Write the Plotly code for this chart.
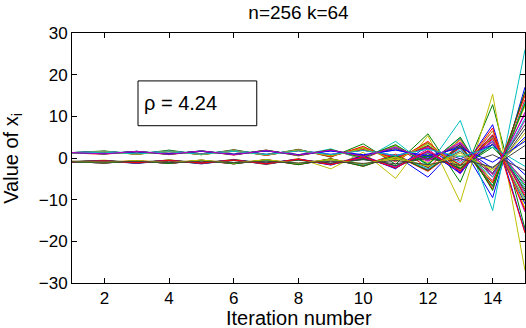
import plotly.graph_objects as go

# iterations on the x axis
iterations = list(range(1, 16))

# MATLAB (old) default colour order: b g r c m y k
color_order = ["#0000ff", "#008000", "#ff0000", "#00bfbf", "#bf00bf", "#bfbf00", "#404040"]

# value of each x_i per iteration (a subset of the 256 traces)
x_00 = [-0.9, -1.2, -0.7, -1.3, -0.6, -1.3, -0.5, -1.4, -0.4, -1.8, 0.6, -4.6, 3.5, -9.5, 17.0]
x_01 = [1.3, 1.7, 0.9, 1.9, 0.8, 2.0, 0.7, 2.1, 0.2, 3.4, -1.5, 5.8, -5.8, 12.8, -17.0]
x_02 = [1.2, 0.9, 1.6, 0.8, 1.7, 0.7, 1.9, 0.5, 2.0, -0.2, 3.0, -2.4, 4.5, -7.5, 15.7]
x_03 = [1.3, 1.0, 1.6, 0.9, 1.7, 0.8, 1.8, 0.6, 2.2, -0.4, 4.0, -2.0, 9.0, -12.6, 26.0]
x_04 = [-0.9, -0.6, -1.2, -0.5, -1.3, -0.4, -1.4, -0.2, -1.6, 0.6, -2.4, 2.2, -3.8, 6.5, -13.0]
x_05 = [-0.9, -0.5, -1.3, -0.4, -1.4, -0.3, -1.6, -0.1, -2.6, 1.4, -4.9, 5.4, -10.6, 15.3, -27.0]
x_06 = [1.3, 1.6, 1.0, 1.7, 0.9, 1.8, 0.8, 1.9, 0.6, 2.4, -0.4, 3.6, -2.5, 5.5, -9.5]
x_07 = [-1.0, -0.7, -1.3, -0.6, -1.4, -0.5, -1.5, -0.3, -1.7, 0.5, -2.6, 3.0, -3.5, 8.0, -17.7]
x_08 = [1.2, 1.5, 0.9, 1.6, 0.8, 1.7, 0.7, 1.8, 0.5, 2.2, -0.2, 3.0, -1.8, 4.8, -8.0]
x_09 = [-0.8, -1.1, -0.6, -1.2, -0.5, -1.3, -0.4, -1.4, -0.2, -1.7, 0.9, -3.0, 3.2, -7.0, 14.0]
x_10 = [-0.9, -0.7, -1.1, -0.6, -1.2, -0.5, -1.3, -0.4, -1.4, -0.1, -2.0, 1.2, -3.0, 4.0, -10.0]
x_11 = [1.3, 1.1, 1.5, 1.0, 1.6, 0.9, 1.7, 0.8, 1.8, 0.4, 2.6, -0.8, 3.6, -4.5, 9.0]
x_12 = [1.2, 1.5, 1.0, 1.6, 0.9, 1.8, 0.7, 1.9, 0.4, 2.6, -0.6, 3.8, -2.8, 6.5, -12.0]
x_13 = [-0.9, -1.2, -0.7, -1.3, -0.6, -1.4, -0.5, -1.5, -0.4, -1.6, 0.3, -2.2, 1.6, -3.8, 7.0]
x_14 = [1.3, 1.0, 1.5, 0.9, 1.6, 0.8, 1.7, 0.7, 1.7, 0.6, 2.0, 0.0, 2.8, -2.5, 5.0]
x_15 = [-0.9, -0.7, -1.1, -0.6, -1.2, -0.5, -1.3, -0.4, -1.4, -0.2, -1.8, 0.6, -2.6, 3.2, -6.5]
x_16 = [1.2, 1.6, 0.9, 1.7, 0.8, 1.9, 0.6, 2.0, 0.3, 2.8, -0.9, 4.0, -3.2, 7.2, -18.0]
x_17 = [1.3, 1.1, 1.6, 1.0, 1.7, 0.9, 1.8, 0.7, 1.9, 0.3, 2.8, -1.4, 4.8, -6.8, 13.5]
x_18 = [-0.9, -1.1, -0.7, -1.2, -0.6, -1.3, -0.5, -1.4, -0.4, -1.8, 0.4, -2.8, 2.4, -5.4, 11.0]
x_19 = [1.3, 1.0, 1.5, 0.9, 1.6, 0.8, 1.8, 0.6, 2.0, 0.2, 3.0, -1.2, 4.2, -5.8, 12.5]
x_20 = [-0.8, -0.6, -1.0, -0.5, -1.1, -0.4, -1.2, -0.3, -1.3, 0.0, -1.9, 1.0, -2.6, 3.4, -7.5]
x_21 = [1.3, 1.5, 1.1, 1.6, 1.0, 1.7, 0.9, 1.8, 0.9, 1.9, 0.6, 2.4, -0.2, 3.2, -4.0]
x_22 = [-1.0, -0.8, -1.2, -0.7, -1.3, -0.6, -1.4, -0.5, -1.5, -0.3, -1.9, 0.4, -2.4, 2.6, -5.5]
x_23 = [-0.9, -1.2, -0.7, -1.3, -0.6, -1.4, -0.4, -1.6, -0.2, -2.0, 0.6, -3.2, 2.6, -6.0, 15.0]
x_24 = [1.3, 1.6, 1.1, 1.7, 1.0, 1.8, 0.9, 1.9, 0.7, 2.1, 0.2, 2.8, -1.2, 4.0, -7.0]
x_25 = [1.2, 1.4, 1.0, 1.5, 0.9, 1.6, 0.8, 1.7, 0.7, 1.9, 0.3, 2.5, -0.8, 3.8, -6.0]
x_26 = [-0.9, -1.1, -0.7, -1.2, -0.6, -1.2, -0.5, -1.3, -0.5, -1.4, -0.2, -1.8, 0.6, -2.6, 4.5]
x_27 = [1.3, 1.1, 1.5, 1.0, 1.6, 0.9, 1.7, 0.8, 1.8, 0.5, 2.3, -0.4, 3.2, -3.6, 8.0]
x_28 = [-0.9, -0.7, -1.1, -0.6, -1.2, -0.5, -1.3, -0.3, -1.6, 0.2, -2.4, 1.6, -3.6, 5.2, -11.0]
x_29 = [1.3, 1.0, 1.6, 0.9, 1.7, 0.8, 1.9, 0.6, 2.0, 0.1, 3.2, -1.6, 5.0, -7.8, 16.0]
x_30 = [1.2, 1.4, 1.0, 1.5, 0.9, 1.6, 0.8, 1.8, 0.6, 2.0, 0.0, 2.8, -1.6, 4.6, -9.0]
x_31 = [-0.9, -1.1, -0.7, -1.2, -0.6, -1.3, -0.5, -1.4, -0.3, -1.7, 0.5, -2.6, 2.0, -4.6, 9.5]
x_32 = [-1.0, -0.7, -1.2, -0.6, -1.3, -0.5, -1.4, -0.3, -1.5, 0.1, -2.1, 1.4, -3.0, 4.4, -8.5]
x_33 = [1.2, 1.5, 0.9, 1.6, 0.8, 1.7, 0.7, 1.9, 0.5, 2.3, -0.5, 3.4, -2.2, 5.0, -10.5]
x_34 = [-0.9, -0.7, -1.1, -0.7, -1.2, -0.6, -1.2, -0.5, -1.2, -0.4, -1.4, -0.1, -1.8, 0.8, -3.0]
x_35 = [1.3, 1.1, 1.5, 1.0, 1.6, 0.9, 1.7, 0.8, 1.7, 0.8, 1.9, 0.5, 2.4, -1.0, 4.0]
x_36 = [-0.9, -1.2, -0.7, -1.3, -0.5, -1.4, -0.4, -1.6, -0.2, -2.0, 0.6, -3.0, 2.8, -6.6, 13.0]
x_37 = [-0.9, -0.7, -1.1, -0.6, -1.2, -0.5, -1.4, -0.3, -1.6, 0.3, -2.4, 1.8, -3.2, 5.6, -12.5]
x_38 = [1.2, 1.4, 1.0, 1.5, 0.9, 1.6, 0.8, 1.7, 0.8, 1.8, 0.6, 2.1, 0.3, 2.6, -2.0]
x_39 = [1.3, 1.0, 1.6, 0.9, 1.7, 0.8, 1.8, 0.7, 1.9, 0.4, 2.6, -0.6, 3.8, -4.0, 10.5]
x_40 = [-0.8, -1.0, -0.6, -1.1, -0.5, -1.2, -0.4, -1.3, -0.3, -1.5, 0.2, -2.0, 1.2, -3.0, 6.0]
x_41 = [-0.9, -1.0, -0.8, -1.1, -0.8, -1.1, -0.8, -1.2, -0.8, -1.3, -0.6, -1.6, -0.2, -2.2, 3.0]

series = [
    x_00, x_01, x_02, x_03, x_04, x_05, x_06, x_07, x_08, x_09, x_10, x_11, x_12, x_13,
    x_14, x_15, x_16, x_17, x_18, x_19, x_20, x_21, x_22, x_23, x_24, x_25, x_26, x_27,
    x_28, x_29, x_30, x_31, x_32, x_33, x_34, x_35, x_36, x_37, x_38, x_39, x_40, x_41,
]

x_ticks = [2, 4, 6, 8, 10, 12, 14]
y_ticks = [-30, -20, -10, 0, 10, 20, 30]
rho_text = "ρ = 4.24"

FONT = "Liberation Sans, Arial, Helvetica, sans-serif"

fig = go.Figure()
for i, vals in enumerate(series):
    fig.add_trace(go.Scatter(
        x=iterations, y=vals, mode="lines",
        line=dict(color=color_order[i % len(color_order)], width=1),
        showlegend=False, hoverinfo="skip",
    ))

axis_style = dict(
    showline=True, linecolor="black", linewidth=1, mirror="ticks",
    ticks="inside", ticklen=5, tickcolor="black", showgrid=False, zeroline=False,
    automargin=False,
    tickfont=dict(size=17, color="black", family=FONT),
)

fig.update_xaxes(range=[1, 15], tickvals=x_ticks, **axis_style)
fig.update_yaxes(range=[-30, 30], tickvals=y_ticks, **axis_style)

# axis labels placed as annotations for exact positioning
fig.add_annotation(x=0.5, y=-0.14, xref="paper", yref="paper", text="Iteration number",
                   showarrow=False, xanchor="center", yanchor="middle",
                   font=dict(size=20, color="black", family=FONT))
fig.add_annotation(x=-0.133, y=0.5, xref="paper", yref="paper", text="Value of x<sub>i</sub>",
                   showarrow=False, xanchor="center", yanchor="middle", textangle=-90,
                   font=dict(size=20, color="black", family=FONT))

# rho label in a box
fig.add_shape(type="rect", xref="x", yref="y", x0=3.04, x1=6.71, y0=7.75, y1=18.5,
              line=dict(color="black", width=1), fillcolor="white", layer="above")
fig.add_annotation(x=3.17, y=13.1, xref="x", yref="y", text=rho_text, showarrow=False,
                   xanchor="left", yanchor="middle",
                   font=dict(size=20, color="black", family=FONT))

fig.update_layout(
    width=526, height=328,
    margin=dict(l=72, r=1, t=33, b=45),
    paper_bgcolor="white", plot_bgcolor="white",
    title=dict(text="n=256 k=64", x=0.5675, xanchor="center", y=1 - 12 / 328, yanchor="middle",
               font=dict(size=19, color="black", family=FONT)),
    font=dict(family=FONT, color="black"),
)

# page has a default 8px body margin; drop it so the figure sits at the window's corner
fig.write_html(
    "out.html",
    config={"displayModeBar": False, "responsive": False},
    post_script="document.body.style.margin='0';document.body.style.overflow='hidden';",
)
